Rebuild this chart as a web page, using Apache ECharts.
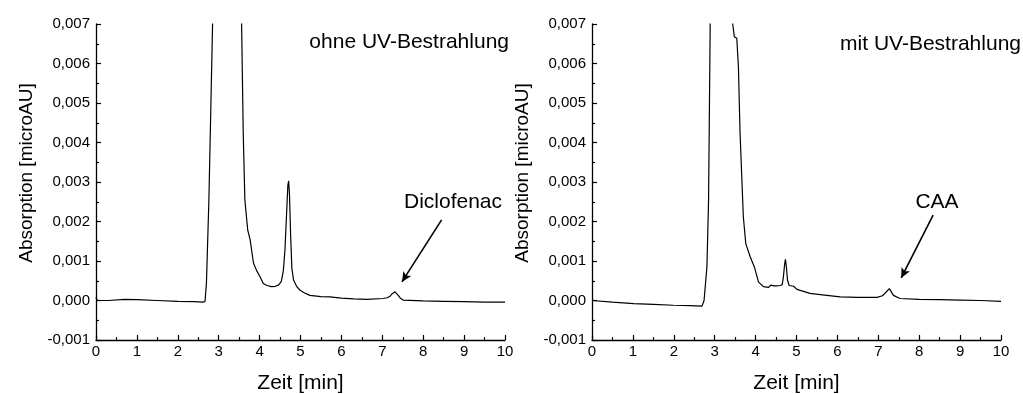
<!DOCTYPE html>
<html>
<head>
<meta charset="utf-8">
<script src="https://cdn.jsdelivr.net/npm/echarts@6/dist/echarts.min.js"></script>
<style>
  html, body { margin: 0; padding: 0; background: #fff; }
  #chart { width: 1023px; height: 394px; }
</style>
</head>
<body>
<div id="chart"></div>
<script>
// Chromatogram without UV irradiation (time in min, absorption)
const timeOhne = [0, 0.03, 0.3, 0.7, 1.0, 1.5, 2.0, 2.4, 2.6, 2.665, 2.70, 2.76, 2.80, 2.85, 2.88, 3.2, 3.52,
  3.56, 3.60, 3.64, 3.71, 3.77, 3.85, 3.93, 4.01, 4.09, 4.18, 4.29, 4.38, 4.46, 4.53, 4.58, 4.62, 4.66, 4.69, 4.71,
  4.73, 4.76, 4.79, 4.83, 4.91, 4.99, 5.1, 5.23, 5.5, 5.72, 6.0, 6.3, 6.62, 7.02, 7.12, 7.19, 7.25, 7.31, 7.35,
  7.39, 7.45, 7.51, 8.0, 8.5, 9.0, 9.5, 10];
const absOhne = [0.00008, 0.0, 0.0, 0.00003, 0.00002, 0.0, -0.00002, -0.00003, -0.00004, -0.00003, 0.00044,
  0.00254, 0.0045, 0.007, 0.0085, 0.016, 0.0085,
  0.007, 0.00424, 0.00254, 0.00178, 0.00153, 0.00095, 0.00075, 0.0006, 0.00043, 0.00038, 0.00035, 0.00036,
  0.00039, 0.00048, 0.00075, 0.00128, 0.0022, 0.0029, 0.00303,
  0.0027, 0.0016, 0.0008, 0.00052, 0.00035, 0.00026, 0.00019, 0.00013, 0.0001, 0.00009, 0.00006, 0.00004, 0.00003,
  0.00005, 0.00007, 0.00011, 0.00018, 0.00022, 0.0002,
  0.00013, 0.00005, 0.00001, -0.00001, -0.00002, -0.00003, -0.00004, -0.00004];

// Chromatogram with UV irradiation
const timeMit = [0, 0.5, 1.02, 1.5, 1.99, 2.4, 2.69, 2.74, 2.81, 2.85, 2.89, 3.0, 3.2, 3.4, 3.44, 3.48, 3.54,
  3.58, 3.62, 3.70, 3.76, 3.87, 3.97, 4.07, 4.19, 4.32, 4.37, 4.45, 4.52, 4.60, 4.65, 4.68, 4.71, 4.73, 4.75,
  4.78, 4.82, 4.93, 5.01, 5.33, 5.58, 6.07, 6.5, 6.97, 7.1, 7.17, 7.27, 7.37, 7.53, 8.0, 8.5, 9.0, 9.5, 10];
const absMit = [0, -0.00004, -0.00008, -0.0001, -0.00012, -0.00013, -0.00014, 0, 0.00085, 0.00254, 0.007,
  0.0095, 0.012, 0.0085, 0.007, 0.00668, 0.00664,
  0.00592, 0.00424, 0.00212, 0.00144, 0.0011, 0.00085, 0.00047, 0.00035, 0.00033, 0.00039, 0.00037, 0.00037,
  0.00038, 0.0004, 0.0006, 0.00092, 0.00104, 0.00088,
  0.00052, 0.00038, 0.00036, 0.00028, 0.00018, 0.00015, 0.00009, 0.00008, 0.00008, 0.00012, 0.00019, 0.0003, 0.00013,
  0.00005, 0.00003, 0.00002, 0.00001, 0.0, -0.00002];

// Peak annotations: arrow start and arrow tip in data units
const arrowOhne = [[8.45, 0.00204], [7.48, 0.00047]];
const arrowMit = [[8.34, 0.00216], [7.56, 0.00057]];

const xTicks = [0, 1, 2, 3, 4, 5, 6, 7, 8, 9, 10];
const yMin = -0.001, yMax = 0.007, yStep = 0.001;

const FONT = 'Liberation Sans, Arial, sans-serif';

function zip(xs, ys) { return xs.map((x, i) => [x, ys[i]]); }

function xAxisOf(gridIndex) {
  return {
    gridIndex, type: 'value', min: xTicks[0], max: xTicks[xTicks.length - 1], interval: 1,
    name: 'Zeit [min]', nameLocation: 'middle', nameGap: 33,
    nameTextStyle: { fontFamily: FONT, fontSize: 21, color: '#000' },
    axisLine: { show: true, onZero: false, lineStyle: { color: '#000', width: 1.3 } },
    axisTick: { show: true, inside: true, length: 5, lineStyle: { color: '#000', width: 1.2 } },
    minorTick: { show: true, splitNumber: 2, length: 3, lineStyle: { color: '#000', width: 1.2 } },
    axisLabel: { fontFamily: FONT, fontSize: 15, color: '#000', margin: 4 },
    splitLine: { show: false }
  };
}

function yAxisOf(gridIndex) {
  return {
    gridIndex, type: 'value', min: yMin, max: yMax, interval: yStep,
    name: 'Absorption [microAU]', nameLocation: 'middle', nameGap: 60,
    nameTextStyle: { fontFamily: FONT, fontSize: 19, color: '#000', padding: [0, 0, 0, 18] },
    axisLine: { show: true, onZero: false, lineStyle: { color: '#000', width: 1.3 } },
    axisTick: { show: true, inside: true, length: 5, lineStyle: { color: '#000', width: 1.2 } },
    minorTick: { show: true, splitNumber: 2, length: 3, lineStyle: { color: '#000', width: 1.2 } },
    axisLabel: {
      fontFamily: FONT, fontSize: 15, color: '#000', margin: 6,
      formatter: v => v.toFixed(3).replace('.', ',')
    },
    splitLine: { show: false }
  };
}

function arrowLine(pts) {
  return {
    silent: true,
    symbol: ['none', 'arrow'],
    symbolSize: [7, 10],
    label: { show: false },
    lineStyle: { color: '#000', width: 1.6, type: 'solid' },
    data: [[{ coord: pts[0] }, { coord: pts[1] }]]
  };
}

const chart = echarts.init(document.getElementById('chart'), null, { renderer: 'canvas' });
chart.setOption({
  animation: false,
  backgroundColor: '#fff',
  grid: [
    { left: 96, top: 24, width: 409, height: 316, containLabel: false, outerBoundsMode: 'none' },
    { left: 592, top: 24, width: 409, height: 316, containLabel: false, outerBoundsMode: 'none' }
  ],
  xAxis: [xAxisOf(0), xAxisOf(1)],
  yAxis: [yAxisOf(0), yAxisOf(1)],
  graphic: [
    { type: 'text', x: 509, y: 42, style: { text: 'ohne UV-Bestrahlung', font: '21px ' + FONT, fill: '#000', textAlign: 'right', textVerticalAlign: 'middle' } },
    { type: 'text', x: 1021, y: 44, style: { text: 'mit UV-Bestrahlung', font: '21px ' + FONT, fill: '#000', textAlign: 'right', textVerticalAlign: 'middle' } },
    { type: 'text', x: 453, y: 202, style: { text: 'Diclofenac', font: '21px ' + FONT, fill: '#000', textAlign: 'center', textVerticalAlign: 'middle' } },
    { type: 'text', x: 937, y: 202, style: { text: 'CAA', font: '21px ' + FONT, fill: '#000', textAlign: 'center', textVerticalAlign: 'middle' } }
  ],
  series: [
    {
      type: 'line', xAxisIndex: 0, yAxisIndex: 0, data: zip(timeOhne, absOhne),
      showSymbol: false, clip: true, lineStyle: { color: '#000', width: 1.2 },
      markLine: arrowLine(arrowOhne)
    },
    {
      type: 'line', xAxisIndex: 1, yAxisIndex: 1, data: zip(timeMit, absMit),
      showSymbol: false, clip: true, lineStyle: { color: '#000', width: 1.2 },
      markLine: arrowLine(arrowMit)
    }
  ]
});
</script>
</body>
</html>
